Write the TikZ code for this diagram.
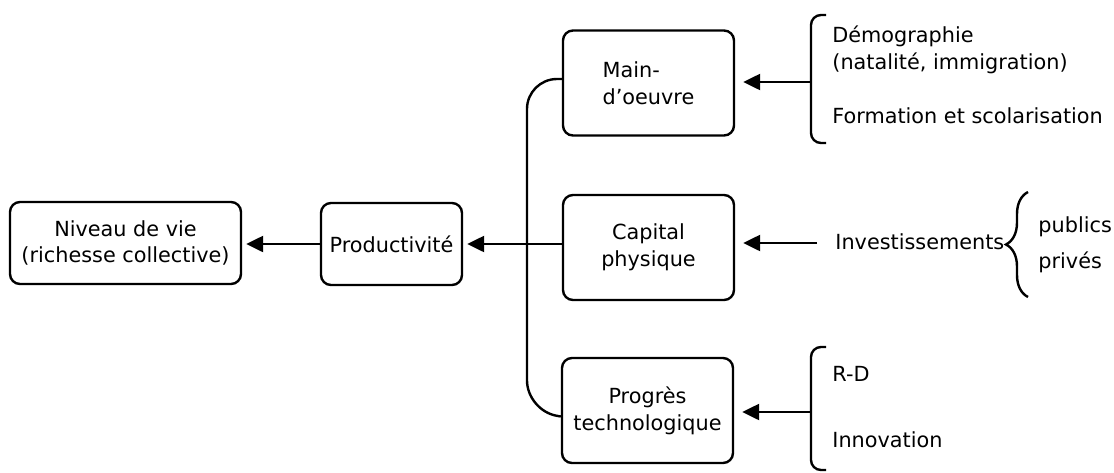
\documentclass[tikz,border=0pt]{standalone}
\usepackage{fontspec}
\setmainfont{DejaVu Sans}
\usetikzlibrary{arrows.meta,positioning,decorations.pathreplacing}
\tikzset{
  bloc/.style={draw,rounded corners=5pt,line width=1.2pt,align=center,
               minimum width=85.5pt,minimum height=52.5pt,inner sep=2pt},
  fleche/.style={-{Triangle[length=8.5pt,width=8pt]},line width=1.2pt,shorten >=4pt},
  crochet/.style={line width=1.2pt,rounded corners=5pt},
  accolade/.style={line width=1.2pt,decorate,decoration={brace,amplitude=11pt}},
  txt/.style={anchor=base west,inner sep=0pt,align=left},
}

\begin{document}
\begin{tikzpicture}[x=0.5pt,y=-0.5pt,font=\fontsize{10.4}{13.4}\selectfont]
  \useasboundingbox (0,0) rectangle (1114,472);
  % blocs
  \node[bloc,minimum width=115.5pt,minimum height=41pt] (niveau) at (125.5,243)
    {Niveau de vie\\(richesse collective)};
  \node[bloc,minimum width=70.5pt,minimum height=41pt] (prod) at (391.5,244)
    {Productivité};
  \node[bloc,align=left] (main) at (648.5,83) {Main-\\d’oeuvre};
  \node[bloc] (capital) at (648.5,247.5) {Capital\\physique};
  \node[bloc] (progres) at (647.5,410.5) {Progrès\\technologique};
  % textes a droite
  \node[txt] (demo) at (832,69) {Démographie\\(natalité, immigration)};
  \node[txt] (forma) at (832,123) {Formation et scolarisation};
  \node[txt] (invest) at (835,249) {Investissements};
  \node[txt] (publics) at (1038,232) {publics};
  \node[txt] (prives) at (1038,268) {privés};
  \node[txt] (rd) at (832,381) {R-D};
  \node[txt] (innov) at (832,447) {Innovation};
  \coordinate (spine) at (527,0);
  \coordinate (demoBr) at (811,82);
  \coordinate (investBr) at (817,243);
  \coordinate (innovBr) at (811,412);
  % crochets
  \draw[crochet] (826,15) -- (811,15) -- (811,143) -- (826,143);
  \draw[crochet] (826,347) -- (811,347) -- (811,470) -- (826,470);
  \draw[accolade] (1028,297) -- (1028,192);
  \draw[line width=1.2pt,rounded corners=15pt] ([yshift=2pt]main.west)
    -| (spine |- progres.west) -- ([yshift=-3pt]progres.west);
  % fleches
  \draw[fleche,shorten >=2pt] (prod.west) -- (niveau.east |- prod.west);
  \draw[fleche,shorten >=2pt] (capital.west |- prod.east) -- (prod.east);
  \draw[fleche] (demoBr) -- (main.east |- demoBr);
  \draw[fleche] (investBr) -- (capital.east |- investBr);
  \draw[fleche] (innovBr) -- (progres.east |- innovBr);
\end{tikzpicture}
\end{document}
